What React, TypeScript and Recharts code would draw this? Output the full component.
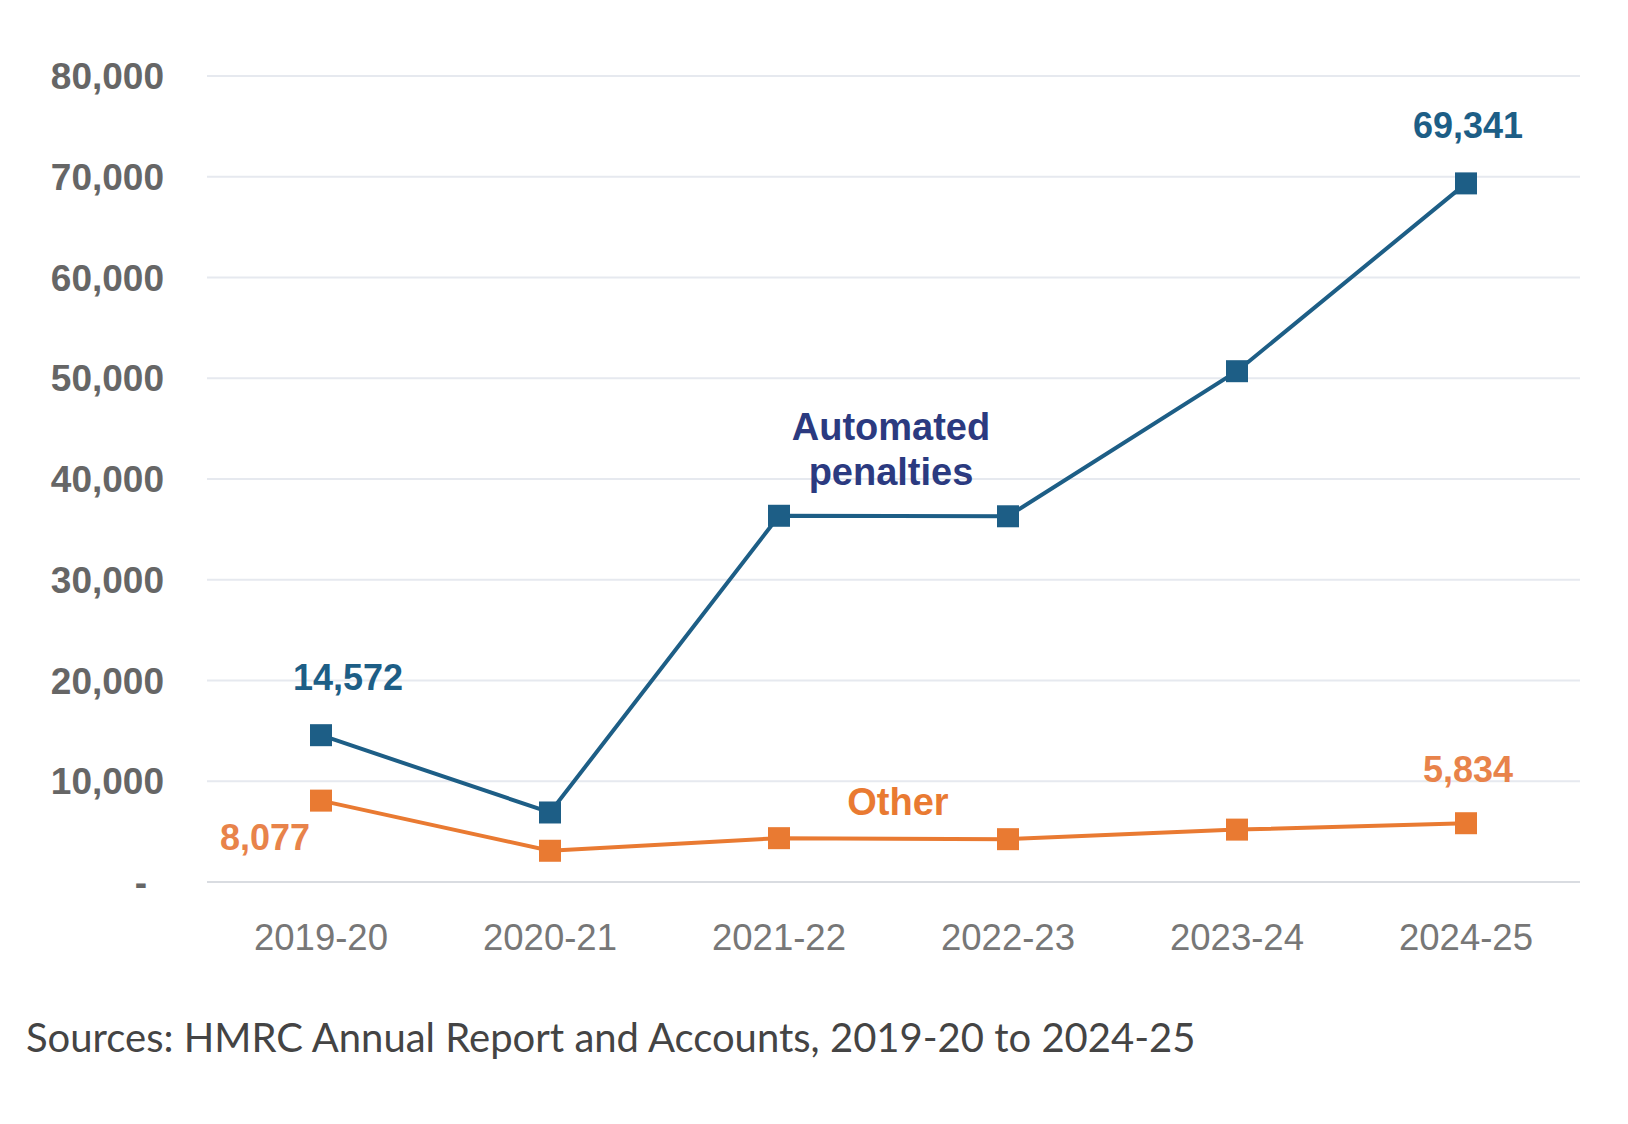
import React from "react";
import { LineChart, Line, XAxis, YAxis, CartesianGrid, LabelList } from "recharts";

const years = ["2019-20", "2020-21", "2021-22", "2022-23", "2023-24", "2024-25"];
const automated = [14572, 6900, 36350, 36300, 50700, 69341];
const other = [8077, 3100, 4350, 4250, 5200, 5834];
const yTicks = [0, 10000, 20000, 30000, 40000, 50000, 60000, 70000, 80000];

const BLUE = "#1d5e86";
const NAVY = "#2b3a80";
const ORANGE = "#e97a32";
const ORANGE_TEXT = "#e8834a";

const data = years.map((year, i) => ({ year, automated: automated[i], other: other[i] }));

const fmt = (v: number) => v.toLocaleString("en-GB");

const FONT = "'Liberation Sans', Arial, sans-serif";

function SquareDot(color: string) {
  return (props: any) => {
    const { cx, cy, index } = props;
    if (cx == null || cy == null) return null;
    return <rect key={index} x={cx - 11} y={cy - 11} width={22} height={22} fill={color} />;
  };
}

function YTick(props: any) {
  const { x, y, payload } = props;
  const isZero = payload.value === 0;
  return (
    <text
      x={isZero ? x - 17 : x}
      y={y}
      dy="0.355em"
      textAnchor="end"
      fill="#666"
      fontSize={37}
      fontWeight="bold"
      fontFamily={FONT}
    >
      {isZero ? "-" : fmt(payload.value)}
    </text>
  );
}

function automatedLabel(props: any) {
  const { x, y, index, value } = props;
  const common = { fontSize: 36, fontWeight: "bold" as const, fontFamily: FONT, textAnchor: "middle" as const };
  if (index === 0 || index === 5) {
    const dx = index === 0 ? 27 : 2;
    return (
      <text key={index} x={x + dx} y={y - 58} dy="0.355em" fill={BLUE} {...common}>
        {fmt(value)}
      </text>
    );
  }
  if (index === 2) {
    return (
      <text key={index} x={x + 112} fill={NAVY} {...common} fontSize={38}>
        <tspan x={x + 112} y={y - 89} dy="0.355em">Automated</tspan>
        <tspan x={x + 112} y={y - 44} dy="0.355em">penalties</tspan>
      </text>
    );
  }
  return null;
}

function otherLabel(props: any) {
  const { x, y, index, value } = props;
  const common = { fontSize: 36, fontWeight: "bold" as const, fontFamily: FONT, textAnchor: "middle" as const };
  if (index === 0) {
    return (
      <text key={index} x={x - 56} y={y + 37} dy="0.355em" fill={ORANGE_TEXT} {...common}>
        {fmt(value)}
      </text>
    );
  }
  if (index === 5) {
    return (
      <text key={index} x={x + 2} y={y - 54} dy="0.355em" fill={ORANGE_TEXT} {...common}>
        {fmt(value)}
      </text>
    );
  }
  if (index === 2) {
    return (
      <text key={index} x={x + 119} y={y - 37} dy="0.355em" fill={ORANGE} {...common} fontSize={38}>
        Other
      </text>
    );
  }
  return null;
}

export default function App() {
  return (
    <div style={{ position: "absolute", left: 0, top: 0, width: 1628, height: 1124, background: "#fff" }}>
      <LineChart
        width={1628}
        height={1000}
        data={data}
        margin={{ top: 76, right: 48, bottom: 0, left: 0 }}
      >
        <CartesianGrid vertical={false} stroke="#e6e9ef" strokeWidth={2} />
        <XAxis
          dataKey="year"
          height={118}
          padding={{ left: 114, right: 114 }}
          tickLine={false}
          tickMargin={36}
          axisLine={{ stroke: "#d9dce1", strokeWidth: 2 }}
          tick={{ fill: "#777", fontSize: 36.5, fontFamily: FONT }}
        />
        <YAxis
          width={207}
          domain={[0, 80000]}
          ticks={yTicks}
          axisLine={false}
          tickLine={false}
          tickMargin={37}
          tick={<YTick />}
        />
        <Line
          dataKey="automated"
          stroke={BLUE}
          strokeWidth={4}
          dot={SquareDot(BLUE)}
          activeDot={false}
          isAnimationActive={false}
        >
          <LabelList dataKey="automated" content={automatedLabel} />
        </Line>
        <Line
          dataKey="other"
          stroke={ORANGE}
          strokeWidth={4}
          dot={SquareDot(ORANGE)}
          activeDot={false}
          isAnimationActive={false}
        >
          <LabelList dataKey="other" content={otherLabel} />
        </Line>
      </LineChart>
      <div
        style={{
          position: "absolute",
          left: 26,
          top: 1013,
          fontFamily: "Lato, 'Open Sans', sans-serif",
          fontSize: 40,
          color: "#444",
          whiteSpace: "nowrap",
        }}
      >
        Sources: HMRC Annual Report and Accounts, 2019-20 to 2024-25
      </div>
    </div>
  );
}
